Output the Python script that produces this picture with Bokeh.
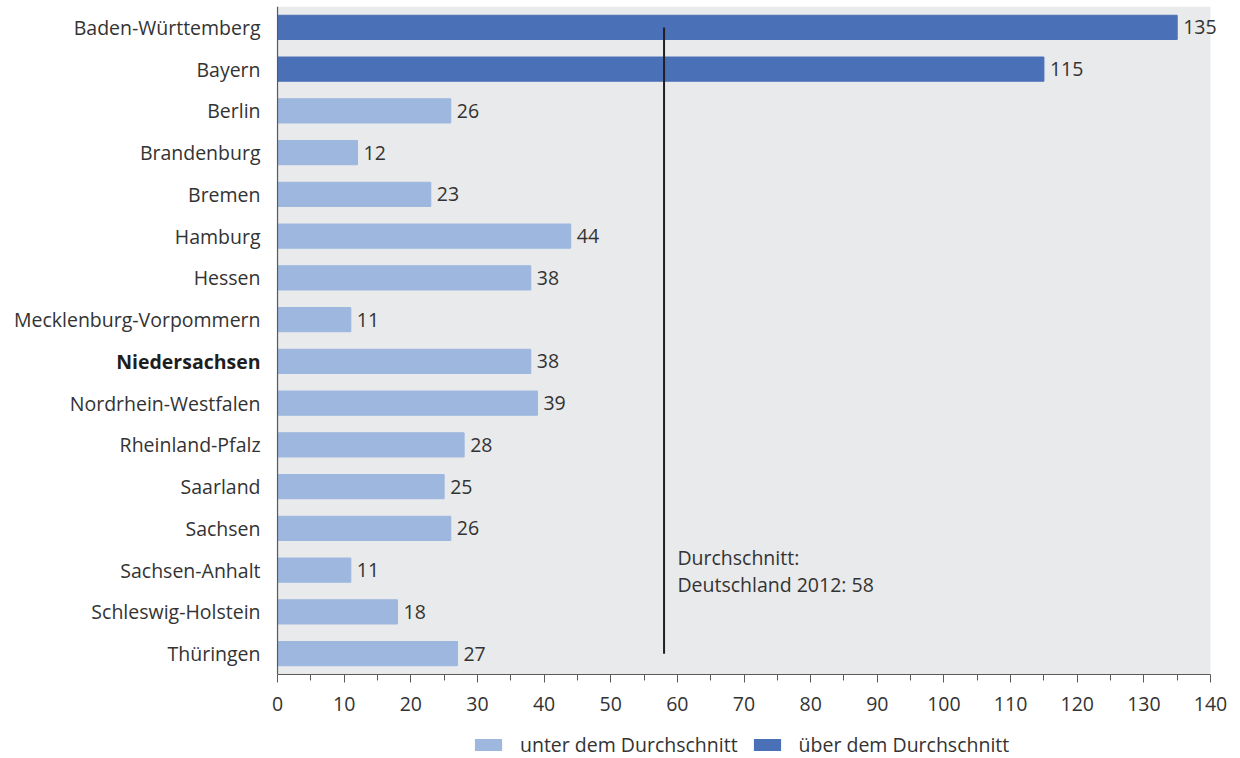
from bokeh.plotting import figure
from bokeh.layouts import column
from bokeh.models import (FactorRange, Range1d, Legend, LegendItem, FixedTicker,
                          ColumnDataSource, BoxAnnotation, Span)
from bokeh.core.properties import value
from bokeh.embed import file_html
from bokeh.resources import INLINE

states = ["Baden-Württemberg", "Bayern", "Berlin", "Brandenburg", "Bremen", "Hamburg",
          "Hessen", "Mecklenburg-Vorpommern", "Niedersachsen", "Nordrhein-Westfalen",
          "Rheinland-Pfalz", "Saarland", "Sachsen", "Sachsen-Anhalt", "Schleswig-Holstein",
          "Thüringen"]
values = [135, 115, 26, 12, 23, 44, 38, 11, 38, 39, 28, 25, 26, 11, 18, 27]
average = 58
highlight = "Niedersachsen"
x_ticks = list(range(0, 141, 10))
x_minor = list(range(5, 141, 10))
legend_labels = ["unter dem Durchschnitt", "über dem Durchschnitt"]
avg_text = ["Durchschnitt:", "Deutschland 2012: 58"]

FONT = "Open Sans"
FS = "19.5px"
TXT = "#333333"
LIGHT = "#9db7df"
DARK = "#4a70b7"
BG = "#e9eaec"
AXIS = "#5a5a5a"

factors = states[::-1]
xr = Range1d(-41.57, 144.5)
p = figure(width=1240, height=720, y_range=FactorRange(factors=factors),
           x_range=xr, output_backend="svg", toolbar_location=None,
           min_border_left=0, min_border_right=0, min_border_top=6, min_border_bottom=46)
p.background_fill_color = "white"
p.border_fill_color = "white"
p.outline_line_color = None
p.xgrid.visible = False
p.ygrid.visible = False
p.yaxis.visible = False

# plot area background and left axis line
p.add_layout(BoxAnnotation(left=0, right=140, fill_color=BG, fill_alpha=1,
                           line_color=None, level="underlay"))
p.add_layout(Span(location=0, dimension="height", line_color=AXIS, line_width=1.2))

below = ColumnDataSource(dict(y=[s for s, v in zip(states, values) if v < average],
                              x=[v for v in values if v < average]))
above = ColumnDataSource(dict(y=[s for s, v in zip(states, values) if v >= average],
                              x=[v for v in values if v >= average]))
p.hbar(y="y", right="x", left=0, height=0.58, source=below, color=LIGHT)
p.hbar(y="y", right="x", left=0, height=0.58, source=above, color=DARK)

# value labels
p.text(x=values, y=states, text=[str(v) for v in values], x_offset=6,
       text_baseline="middle", text_align="left", text_font=value(FONT),
       text_font_size=FS, text_color=TXT)

# category labels
lab = ColumnDataSource(dict(
    x=[0] * len(states), y=states, t=states,
    style=["bold" if s == highlight else "normal" for s in states],
    color=["#1e1e1e" if s == highlight else TXT for s in states]))
p.text(x="x", y="y", text="t", source=lab, x_offset=-17, text_align="right",
       text_baseline="middle", text_font=value(FONT), text_font_size=FS,
       text_font_style="style", text_color="color")

# average line
p.segment(x0=[average], y0=[states[0]], x1=[average], y1=[states[-1]],
          line_color="#231f20", line_width=2)
p.text(x=[60, 60], y=["Sachsen-Anhalt", "Sachsen-Anhalt"], text=avg_text,
       y_offset=[-13, 14], text_baseline="middle", text_align="left",
       text_font=value(FONT), text_font_size=FS, text_color=TXT)

# x axis
xa = p.xaxis[0]
xa.bounds = (0, 140)
xa.ticker = FixedTicker(ticks=x_ticks, minor_ticks=x_minor)
xa.axis_line_color = AXIS
xa.axis_line_width = 1.2
xa.major_tick_line_color = AXIS
xa.minor_tick_line_color = AXIS
xa.major_tick_out = 8
xa.major_tick_in = 0
xa.minor_tick_out = 6
xa.minor_tick_in = 0
xa.major_label_text_font = FONT
xa.major_label_text_font_size = FS
xa.major_label_text_color = TXT
xa.major_label_standoff = 14

# legend strip
q = figure(width=1240, height=38, x_range=xr, y_range=Range1d(0, 1),
           output_backend="svg", toolbar_location=None,
           min_border_left=0, min_border_right=0, min_border_top=0, min_border_bottom=0)
q.axis.visible = False
q.grid.visible = False
q.outline_line_color = None
q.background_fill_color = "white"
q.border_fill_color = "white"
l1 = q.hbar(y=[0.5], right=[0], left=[0], height=0.01, fill_color=LIGHT, line_color=None)
l2 = q.hbar(y=[0.5], right=[0], left=[0], height=0.01, fill_color=DARK, line_color=None)
legend = Legend(items=[LegendItem(label=legend_labels[0], renderers=[l1]),
                       LegendItem(label=legend_labels[1], renderers=[l2])],
                orientation="horizontal", location=(471, 0))
legend.label_text_font = FONT
legend.label_text_font_size = FS
legend.label_text_color = TXT
legend.glyph_width = 34
legend.glyph_height = 15
legend.label_height = 20
legend.label_standoff = 15
legend.spacing = 12
legend.padding = 0
legend.margin = 0
legend.border_line_color = None
legend.background_fill_alpha = 0
q.add_layout(legend, "center")

layout = column(p, q, spacing=0)
open("out.html", "w").write(file_html(layout, INLINE))
